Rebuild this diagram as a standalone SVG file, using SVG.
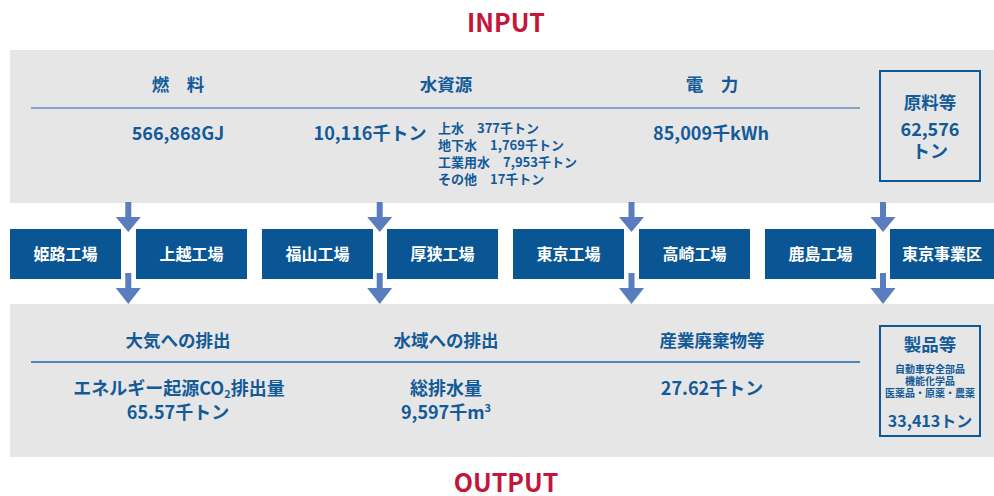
<svg xmlns="http://www.w3.org/2000/svg" width="994" height="496" viewBox="0 0 994 496">
<style>
text{font-family:"Noto Sans CJK JP","Noto Sans",sans-serif;font-weight:700;text-anchor:middle}
.title{fill:#c4163a;font-size:25px}
.panel{fill:#e6e6e6}
.hd{fill:#135a99;font-size:17.5px}
.val{fill:#135a99;font-size:18px}
.val16{fill:#135a99;font-size:16px}
.sub{fill:#135a99;font-size:13px;text-anchor:start}
.sm{fill:#135a99;font-size:10px}
.fac rect{fill:#0a5594}
.fac text{fill:#ffffff;font-size:16px}
.box{fill:none;stroke:#0f5897;stroke-width:2}
.arrow{fill:#5a7dbd}
</style>
<text class="title" x="506" y="32">INPUT</text>
<text class="title" x="506" y="492">OUTPUT</text>

<g id="input-panel">
<rect class="panel" x="10" y="50" width="984" height="153"/>
<line x1="31" y1="108" x2="860" y2="108" stroke="#5f8cbf" stroke-width="1.6"/>
</g>
<g id="input-fuel">
<text class="hd" x="178" y="91">燃　料</text>
<text class="val" x="178" y="140">566,868GJ</text>
</g>
<g id="input-water">
<text class="hd" x="446" y="91">水資源</text>
<text class="val" x="370" y="140">10,116千トン</text>
<text class="sub" x="438" y="133">上水　377千トン</text>
<text class="sub" x="438" y="150">地下水　1,769千トン</text>
<text class="sub" x="438" y="167">工業用水　7,953千トン</text>
<text class="sub" x="438" y="184">その他　17千トン</text>
</g>
<g id="input-power">
<text class="hd" x="712" y="91">電　力</text>
<text class="val" x="711" y="140">85,009千kWh</text>
</g>
<g id="input-materials">
<rect class="box" x="880" y="71" width="100" height="110"/>
<text class="hd" x="930" y="109">原料等</text>
<text class="val" x="930" y="136">62,576</text>
<text class="val" x="930" y="158">トン</text>
</g>

<g id="output-panel">
<rect class="panel" x="10" y="304" width="984" height="153"/>
<line x1="31" y1="362" x2="860" y2="362" stroke="#1c64ae" stroke-width="1.6"/>
</g>
<g id="output-air">
<text class="hd" x="178" y="347">大気への排出</text>
<text class="val" x="179" y="395">エネルギー起源CO<tspan font-size="11" dy="3">2</tspan><tspan dy="-3">排出量</tspan></text>
<text class="val" x="178" y="419">65.57千トン</text>
</g>
<g id="output-water">
<text class="hd" x="446" y="347">水域への排出</text>
<text class="val" x="446" y="395">総排水量</text>
<text class="val" x="446" y="419">9,597千m<tspan font-size="11" dy="-7">3</tspan></text>
</g>
<g id="output-waste">
<text class="hd" x="712" y="347">産業廃棄物等</text>
<text class="val" x="712" y="395">27.62千トン</text>
</g>
<g id="output-products">
<rect class="box" x="880" y="326" width="100" height="110"/>
<text class="hd" x="930" y="351">製品等</text>
<text class="sm" x="930" y="373">自動車安全部品</text>
<text class="sm" x="930" y="385">機能化学品</text>
<text class="sm" x="930" y="397">医薬品・原薬・農薬</text>
<text class="val16" x="930" y="427">33,413トン</text>
</g>

<g id="factory-himeji" class="fac"><rect x="10" y="229" width="111" height="50"/><text x="65.5" y="260">姫路工場</text></g>
<g id="factory-joetsu" class="fac"><rect x="136" y="229" width="111" height="50"/><text x="191.5" y="260">上越工場</text></g>
<g id="factory-fukuyama" class="fac"><rect x="262" y="229" width="111" height="50"/><text x="317.5" y="260">福山工場</text></g>
<g id="factory-asa" class="fac"><rect x="387" y="229" width="111" height="50"/><text x="442.5" y="260">厚狭工場</text></g>
<g id="factory-tokyo" class="fac"><rect x="513" y="229" width="111" height="50"/><text x="568.5" y="260">東京工場</text></g>
<g id="factory-takasaki" class="fac"><rect x="639" y="229" width="111" height="50"/><text x="694.5" y="260">高崎工場</text></g>
<g id="factory-kashima" class="fac"><rect x="765" y="229" width="111" height="50"/><text x="820.5" y="260">鹿島工場</text></g>
<g id="factory-tokyo-office" class="fac"><rect x="890" y="229" width="104" height="50"/><text x="942" y="260">東京事業区</text></g>

<g id="connectors">
<path class="arrow" d="M125.3 202h6v15h9.5l-12.5 15l-12.5-15h9.5z"/>
<path class="arrow" d="M376.7 202h6v15h9.5l-12.5 15l-12.5-15h9.5z"/>
<path class="arrow" d="M628.5 202h6v15h9.5l-12.5 15l-12.5-15h9.5z"/>
<path class="arrow" d="M880 202h6v15h9.5l-12.5 15l-12.5-15h9.5z"/>
<path class="arrow" d="M125.3 273h6v15h9.5l-12.5 16l-12.5-16h9.5z"/>
<path class="arrow" d="M376.7 273h6v15h9.5l-12.5 16l-12.5-16h9.5z"/>
<path class="arrow" d="M628.5 273h6v15h9.5l-12.5 16l-12.5-16h9.5z"/>
<path class="arrow" d="M880 273h6v15h9.5l-12.5 16l-12.5-16h9.5z"/>
</g>
</svg>
